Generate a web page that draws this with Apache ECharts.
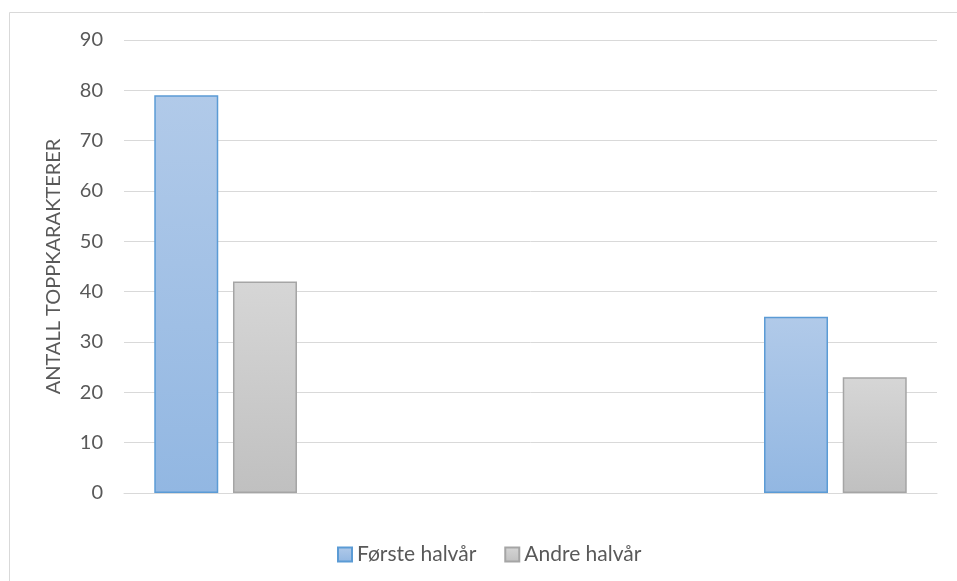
<!DOCTYPE html>
<html>
<head>
<meta charset="utf-8">
<script src="https://cdn.jsdelivr.net/npm/echarts@6/dist/echarts.min.js"></script>
<style>
  html, body { margin: 0; padding: 0; background: #ffffff; }
  #chart { width: 957px; height: 581px; }
</style>
</head>
<body>
<div id="chart"></div>
<script>
// Four category slots; the middle two are empty
const categories = ['', '', '', ''];
const seriesNames = ['Første halvår', 'Andre halvår'];
const firstHalf = [79, null, null, 35];
const secondHalf = [42, null, null, 23];
const yTicks = { min: 0, max: 90, interval: 10 };
const yTitle = 'ANTALL TOPPKARAKTERER';

const textColor = '#595959';
const fontFamily = 'Lato, "Open Sans", sans-serif';

function vGrad(top, bottom) {
  return new echarts.graphic.LinearGradient(0, 0, 0, 1, [
    { offset: 0, color: top },
    { offset: 1, color: bottom }
  ]);
}

const chart = echarts.init(document.getElementById('chart'), null, { renderer: 'canvas' });
chart.setOption({
  animation: false,
  backgroundColor: '#ffffff',
  textStyle: { fontFamily: fontFamily },
  graphic: [{
    type: 'rect',
    left: 7, top: 10,
    shape: { width: 970, height: 600 },
    style: { fill: 'none', stroke: '#d9d9d9', lineWidth: 1 },
    silent: true
  }],
  grid: { left: 124, right: 20, top: 40, bottom: 88 },
  legend: {
    left: 332, top: 539,
    itemWidth: 14, itemHeight: 14, itemGap: 28,
    icon: 'rect',
    textStyle: { color: textColor, fontSize: 21, fontFamily: fontFamily, padding: [0, 0, 0, 0] },
    data: seriesNames
  },
  xAxis: {
    type: 'category',
    data: categories,
    axisTick: { show: false },
    axisLabel: { show: false },
    axisLine: { lineStyle: { color: '#d9d9d9', width: 1 } }
  },
  yAxis: {
    type: 'value',
    min: yTicks.min, max: yTicks.max, interval: yTicks.interval,
    name: yTitle,
    nameLocation: 'middle',
    nameGap: 60,
    nameTextStyle: { color: textColor, fontSize: 20, fontFamily: fontFamily },
    axisLabel: { color: textColor, fontSize: 20, margin: 21, fontFamily: fontFamily },
    axisLine: { show: false },
    axisTick: { show: false },
    splitLine: { lineStyle: { color: '#d9d9d9', width: 1 } }
  },
  series: [
    {
      name: seriesNames[0],
      type: 'bar',
      data: firstHalf,
      barWidth: 64,
      barGap: '23%',
      itemStyle: {
        color: vGrad('#b1cae9', '#92b7e2'),
        borderColor: '#5b9bd5',
        borderWidth: 1.5
      }
    },
    {
      name: seriesNames[1],
      type: 'bar',
      data: secondHalf,
      barWidth: 64,
      barGap: '23%',
      itemStyle: {
        color: vGrad('#d6d6d6', '#c0c0c0'),
        borderColor: '#a5a5a5',
        borderWidth: 1.5
      }
    }
  ]
});
</script>
</body>
</html>
